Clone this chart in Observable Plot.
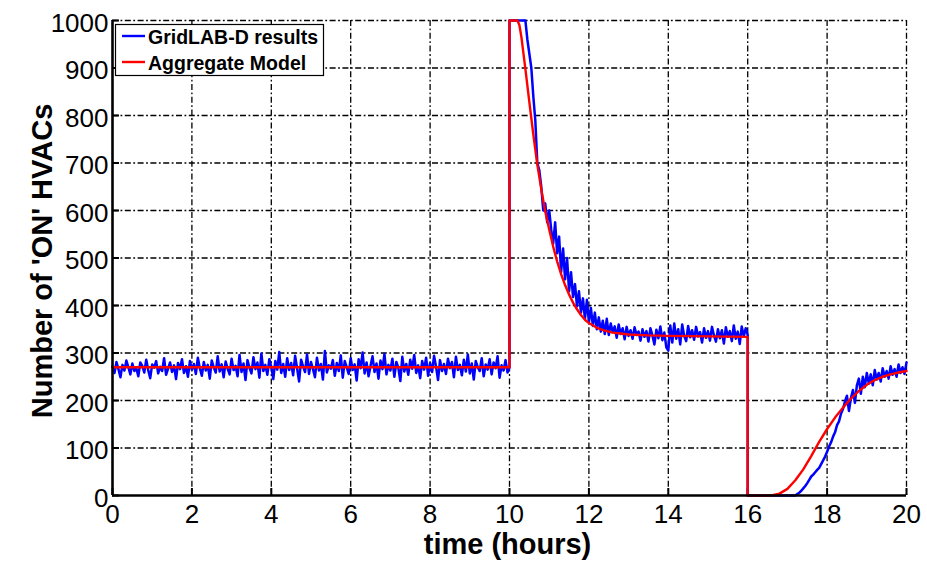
<!DOCTYPE html>
<html>
<head>
<meta charset="utf-8">
<script src="https://cdn.jsdelivr.net/npm/d3@7"></script>
<script src="https://cdn.jsdelivr.net/npm/@observablehq/plot@0.6"></script>
<style>
  html, body { margin: 0; padding: 0; background: #fff; }
  #chart svg { display: block; }
</style>
</head>
<body>
<div id="chart"></div>
<script>
// Axis ticks
const xTicks = [0, 2, 4, 6, 8, 10, 12, 14, 16, 18, 20];
const yTicks = [0, 100, 200, 300, 400, 500, 600, 700, 800, 900, 1000];

// GridLAB-D simulation, sampled every 0.05 h
const sampleStep = 0.05;
// 0 h .. 10 h (steady state before the setpoint change)
const gridlabSteady = [
  272, 258, 281, 266, 249, 275, 263, 284, 270, 255,
  278, 262, 268, 251, 280, 273, 259, 286, 264, 247,
  276, 269, 283, 257, 271, 262, 289, 254, 267, 280,
  260, 274, 245, 279, 266, 287, 258, 272, 250, 283,
  265, 277, 256, 290, 268, 252, 281, 263, 275, 246,
  284, 270, 259, 293, 261, 276, 249, 282, 267, 255,
  288, 264, 273, 251, 296, 260, 278, 243, 285, 269,
  257, 291, 266, 280, 248, 299, 262, 275, 254, 287,
  271, 245, 283, 265, 302, 258, 277, 250, 289, 264,
  279, 253, 294, 268, 240, 286, 272, 260, 297, 256,
  281, 266, 249, 290, 263, 277, 244, 304, 259, 274,
  267, 285, 252, 279, 262, 295, 248, 283, 270, 256,
  289, 264, 276, 242, 287, 268, 301, 257, 280, 251,
  273, 293, 260, 278, 246, 284, 266, 298, 255, 275,
  263, 288, 250, 281, 269, 241, 292, 261, 277, 254,
  286, 267, 296, 258, 274, 247, 283, 265, 290, 252,
  279, 260, 294, 271, 243, 285, 262, 277, 256, 288,
  268, 281, 249, 292, 264, 275, 253, 286, 261, 297,
  257, 278, 244, 283, 270, 262, 289, 251, 276, 265,
  287, 255, 280, 268, 293, 248, 274, 263, 285, 259,
  270
];
// 10 h .. 16 h (saturation and decay)
const gridlabDecay = [
  1000, 1000, 1000, 1000, 1000, 1000, 1000, 1000, 1000, 960,
  930, 900, 840, 790, 700, 685, 650, 600, 615, 575,
  600, 560, 530, 575, 510, 545, 470, 520, 455, 500,
  430, 470, 418, 445, 398, 430, 385, 415, 372, 412,
  365, 395, 357, 385, 350, 375, 345, 368, 340, 372,
  338, 362, 344, 356, 332, 360, 340, 352, 329, 355,
  336, 348, 330, 354, 338, 345, 326, 350, 334, 346,
  324, 352, 337, 318, 349, 331, 356, 327, 343, 312,
  305, 358, 322, 362, 330, 350, 318, 360, 336, 325,
  357, 333, 348, 328, 355, 335, 344, 322, 352, 332,
  346, 326, 355, 337, 324, 350, 331, 348, 320, 354,
  334, 346, 325, 358, 330, 345, 319, 356, 335, 352,
  338
];
// 16 h .. 20 h (shut-off and recovery)
const gridlabRecovery = [
  0, 0, 0, 0, 0, 0, 0, 0, 0, 0,
  0, 0, 0, 0, 0, 0, 0, 0, 0, 0,
  0, 0, 0, 0, 0,
  3, 6, 10, 15, 20, 26, 33, 40, 44, 49, 54, 58, 66, 74, 82,
  92, 103, 112, 124, 133, 148, 156, 172, 182, 198,
  210, 178, 205, 222, 195, 232, 246, 214, 250, 228,
  258, 236, 255, 232, 264, 244, 258, 240, 268, 250,
  262, 246, 272, 254, 266, 250, 276, 258, 270, 256,
  280
];

// Aggregate model
const modelTimes = [
  0, 10, 10, 10.2, 10.25, 10.3, 10.4, 10.5, 10.6, 10.7,
  10.8, 10.9, 11.0, 11.1, 11.2, 11.3, 11.4, 11.5, 11.6, 11.7,
  11.8, 11.9, 12.0, 12.2, 12.4, 12.6, 12.8, 13.0, 13.5, 14.0,
  15.0, 16.0, 16.0, 16.6, 16.8, 17.0, 17.2, 17.4, 17.6, 17.8,
  18.0, 18.2, 18.4, 18.6, 18.8, 19.0, 19.2, 19.4, 19.6, 19.8,
  20.0
];
const modelValues = [
  270, 270, 1000, 1000, 990, 965, 898, 828, 760, 697,
  645, 598, 560, 524, 493, 466, 443, 423, 406, 392,
  380, 370, 363, 353, 347, 343, 341, 339, 337, 336,
  335, 334, 0, 0, 4, 14, 32, 55, 83, 113,
  140, 164, 185, 204, 220, 233, 243, 250, 255, 259,
  262
];

const seriesNames = ["GridLAB-D results", "Aggregate Model"];
const seriesColors = ["#0000ff", "#ff0000"];

// Assemble point tables
const segment = (values, t0) => values.map((v, i) => ({t: +(t0 + i * sampleStep).toFixed(3), v}));
const gridlab = [
  ...segment(gridlabSteady, 0),
  ...segment(gridlabDecay, 10),
  ...segment(gridlabRecovery, 16)
];
const model = modelTimes.map((t, i) => ({t, v: modelValues[i]}));

const W = 927, H = 562;
const mL = 112, mR = 21, mT = 20, mB = 67;
const innerW = W - mL - mR, innerH = H - mT - mB;
const font = "'Liberation Sans', Arial, Helvetica, sans-serif";
const dash = "6,2.5,1.8,2.5";

const chart = Plot.plot({
  width: W,
  height: H,
  marginLeft: mL,
  marginRight: mR,
  marginTop: mT,
  marginBottom: mB,
  style: {fontFamily: font, background: "#fff", color: "#000"},
  x: {domain: [0, 20], ticks: xTicks, label: null},
  y: {domain: [0, 1000], ticks: yTicks, label: null},
  marks: [
    // dash-dot grid
    Plot.ruleX(xTicks.filter(d => d > 0), {stroke: "#000", strokeWidth: 1.3, strokeDasharray: dash}),
    Plot.ruleY(yTicks.filter(d => d > 0), {stroke: "#000", strokeWidth: 1.3, strokeDasharray: dash}),
    // inward tick marks
    Plot.ruleX(xTicks, {stroke: "#000", strokeWidth: 2, insetTop: innerH - 7}),
    Plot.ruleY(yTicks, {stroke: "#000", strokeWidth: 2, insetRight: innerW - 7}),
    // tick labels
    Plot.axisX({ticks: xTicks, tickSize: 0, tickPadding: 9, fontSize: 26, tickFormat: d => String(d), label: null}),
    Plot.axisY({ticks: yTicks, tickSize: 0, tickPadding: 4, fontSize: 26, dy: 3, tickFormat: d => String(d), label: null}),
    // series
    Plot.line(gridlab, {x: "t", y: "v", stroke: seriesColors[0], strokeWidth: 2.5, strokeLinejoin: "round"}),
    Plot.line(model, {x: "t", y: "v", stroke: seriesColors[1], strokeWidth: 2.4, strokeLinejoin: "round"}),
    // solid axis lines
    Plot.ruleX([0], {stroke: "#000", strokeWidth: 2.6}),
    Plot.ruleY([0], {stroke: "#000", strokeWidth: 2.6}),
    // axis titles
    Plot.text(["time (hours)"], {frameAnchor: "bottom", lineAnchor: "middle", textAnchor: "middle", dy: 49, dx: -2, fontSize: 29, fontWeight: "bold", fill: "#000"}),
    Plot.text(["Number of 'ON' HVACs"], {frameAnchor: "left", textAnchor: "middle", lineAnchor: "middle", rotate: -90, dx: -70, dy: 3, fontSize: 29, fontWeight: "bold", fill: "#000"})
  ]
});

document.getElementById("chart").appendChild(chart);

// Legend box in the upper-left corner of the plot area
const svg = d3.select(chart);
const lg = svg.append("g")
  .attr("font-family", font)
  .attr("font-weight", "bold")
  .attr("font-size", 19.5)
  .attr("text-anchor", "start");
lg.append("rect")
  .attr("x", 115.5).attr("y", 24.5).attr("width", 208).attr("height", 51)
  .attr("fill", "#fff").attr("stroke", "#000").attr("stroke-width", 1.2);
seriesNames.forEach((name, i) => {
  const y = 36 + i * 26;
  lg.append("line")
    .attr("x1", 122).attr("x2", 145).attr("y1", y).attr("y2", y)
    .attr("stroke", seriesColors[i]).attr("stroke-width", 2.4);
  lg.append("text")
    .attr("x", 148).attr("y", y + 8)
    .attr("fill", "#000")
    .text(name);
});
</script>
</body>
</html>
